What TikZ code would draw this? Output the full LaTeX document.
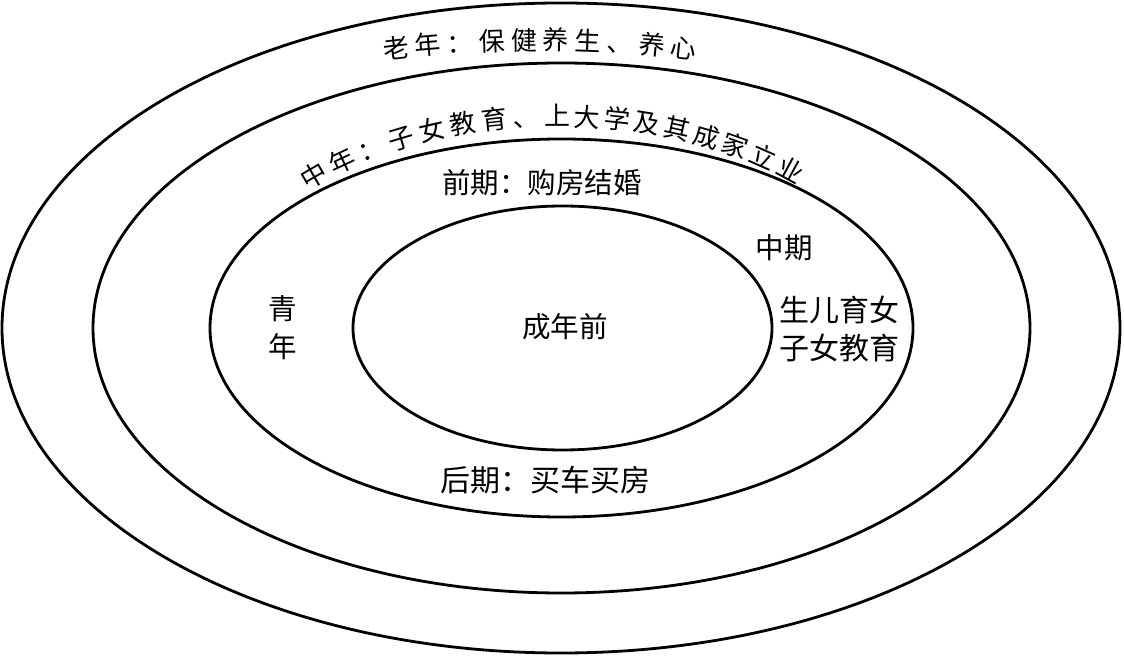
\documentclass[tikz,border=0pt]{standalone}
\usepackage{fontspec}
\setmainfont{Noto Sans CJK SC}
% #1 = signed arc length/100, #2 = rx/100, #3 = ry/100 ; result angle from top in \phires (deg)
\newcommand\ellphi[3]{%
  \pgfmathsetmacro\phicur{0}%
  \pgfmathsetmacro\dsstep{#1/8}%
  \foreach \k in {1,...,8}{%
    \pgfmathsetmacro\phimid{\phicur + 0.5*\dsstep/sqrt((#2*cos(\phicur))^2+(#3*sin(\phicur))^2)*180/pi}%
    \pgfmathsetmacro\phinew{\phicur + \dsstep/sqrt((#2*cos(\phimid))^2+(#3*sin(\phimid))^2)*180/pi}%
    \global\let\phicur\phinew
  }%
  \global\let\phires\phicur
}
\begin{document}
\begin{tikzpicture}[x=1pt,y=1pt,
  ring/.style={draw=black, line width=2.8pt},
  lbl/.style={font=\fontsize{28.5}{38}\selectfont, inner sep=0pt, align=center},
  wlbl/.style={lbl, font=\fontsize{30}{38}\selectfont},
  clbl/.style={font=\fontsize{26}{26}\selectfont, inner sep=0pt, anchor=base}]
\useasboundingbox (0,0) rectangle (1124,656);
% rings
\draw[ring] (561,328) ellipse [x radius=559, y radius=325];
\draw[ring] (561.5,328) ellipse [x radius=468.5, y radius=265];
\draw[ring] (561.5,328) ellipse [x radius=351.5, y radius=189];
\draw[ring] (562.5,328) ellipse [x radius=209.5, y radius=122];
% curved label: old age
\foreach \ch [count=\i from 0] in {老,年,：,保,健,养,生,、,养,心} {
  \pgfmathsetmacro\soff{(\i-4.5)*0.318}
  \ellphi{\soff}{6.00}{2.78}
  \pgfmathsetmacro\th{90-\phires}
  \pgfmathsetmacro\rot{atan2(-278*cos(\th),600*sin(\th))}
  \node[clbl, rotate=\rot] (lao\i) at ({540+600*cos(\th)},{328+278*sin(\th)}) {\ch};
}
% curved label: middle age
\foreach \ch [count=\i from 0] in {中,年,：,子,女,教,育,、,上,大,学,及,其,成,家,立,业} {
  \pgfmathsetmacro\soff{(\i-8)*((\i<8) ? 0.31 : 0.297)}
  \ellphi{\soff}{3.40}{2.02}
  \pgfmathsetmacro\th{90-\phires}
  \pgfmathsetmacro\rot{atan2(-202*cos(\th),340*sin(\th))}
  \node[clbl, rotate=\rot] (zhong\i) at ({557+340*cos(\th)},{328+202*sin(\th)}) {\ch};
}
% straight labels
\node[lbl] (qianqi) at (542,473) {前期：购房结婚};
\node[wlbl] (houqi) at (545,176) {后期：买车买房};
\node[lbl] (zhongqi) at (784,408) {中期};
\node[wlbl] (shengyu) at (839,327) {生儿育女\\子女教育};
\node[lbl] (qingnian) at (283,328) {青\\年};
\node[lbl] (chengnian) at (565,329) {成年前};
\end{tikzpicture}
\end{document}
